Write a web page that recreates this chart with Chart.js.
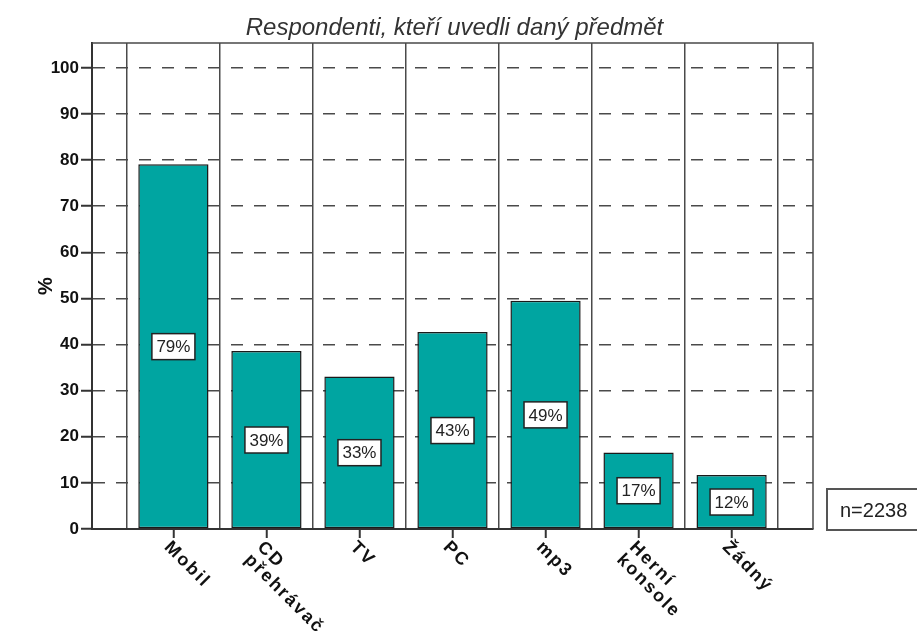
<!DOCTYPE html>
<html>
<head>
<meta charset="utf-8">
<script src="https://cdn.jsdelivr.net/npm/chart.js@4/dist/chart.umd.min.js"></script>
<style>
body { margin: 0; background: #fff; }
</style>
</head>
<body>
<canvas id="graf" width="917" height="635"></canvas>
<script>
var kategorie = [['Mobil'], ['CD', 'přehrávač'], ['TV'], ['PC'], ['mp3'], ['Herní', 'konsole'], ['Žádný']];
var procenta = [79.1, 38.6, 33.1, 42.7, 49.5, 16.6, 11.7];
var popisky = ['79%', '39%', '33%', '43%', '49%', '17%', '12%'];
var osaY = [0, 10, 20, 30, 40, 50, 60, 70, 80, 90, 100];
var titulek = 'Respondenti, kteří uvedli daný předmět';
var pocet = 'n=2238';

var pismo = "'Liberation Sans', Arial, sans-serif";
var barva = '#00a5a1';
var cara = '#4a4a4a';

var body = [];
for (var i = 0; i < procenta.length; i++) {
  body.push({x: i + 1, y: procenta[i]});
}

// hranice mezi sloupci (svisle cary) a stredy (carky pod osou)
var xTicks = [];
for (var i = 0; i <= kategorie.length; i++) {
  xTicks.push({value: i + 0.5});
  if (i < kategorie.length) xTicks.push({value: i + 1});
}

function hranice(ctx) {
  return ctx.tick && ctx.tick.value % 1 !== 0;
}

var doplnky = {
  id: 'doplnky',
  afterDraw: function(chart) {
    var ctx = chart.ctx;
    var area = chart.chartArea;
    var x = chart.scales.x;
    var y = chart.scales.y;
    ctx.save();

    // nadpis nad plochou grafu
    ctx.font = 'italic 24px ' + pismo;
    ctx.fillStyle = '#333';
    ctx.textAlign = 'center';
    ctx.textBaseline = 'middle';
    ctx.fillText(titulek, (area.left + area.right) / 2 + 2, 28);

    // ramecek nahore a vpravo
    ctx.strokeStyle = cara;
    ctx.lineWidth = 1.5;
    ctx.beginPath();
    ctx.moveTo(area.left, area.top);
    ctx.lineTo(area.right, area.top);
    ctx.lineTo(area.right, area.bottom);
    ctx.stroke();

    // popisky hodnot uprostred sloupcu
    var meta = chart.getDatasetMeta(0);
    ctx.font = '17px ' + pismo;
    ctx.textAlign = 'center';
    ctx.textBaseline = 'middle';
    meta.data.forEach(function(bar, i) {
      var stred = y.getPixelForValue(procenta[i] / 2);
      var w = ctx.measureText(popisky[i]).width + 9;
      ctx.fillStyle = '#fff';
      ctx.fillRect(bar.x - w / 2, stred - 13, w, 26);
      ctx.strokeStyle = '#222';
      ctx.lineWidth = 1.5;
      ctx.strokeRect(bar.x - w / 2, stred - 13, w, 26);
      ctx.fillStyle = '#222';
      ctx.fillText(popisky[i], bar.x, stred + 1);
    });

    // kategorie, otocene o 45 stupnu
    ctx.font = 'bold 18px ' + pismo;
    ctx.letterSpacing = '2px';
    ctx.textAlign = 'left';
    ctx.textBaseline = 'top';
    ctx.fillStyle = '#111';
    for (var i = 0; i < kategorie.length; i++) {
      ctx.save();
      ctx.translate(x.getPixelForValue(i + 1), area.bottom + 9);
      ctx.rotate(Math.PI / 4);
      for (var k = 0; k < kategorie[i].length; k++) {
        ctx.fillText(kategorie[i][k], 0, k * 18);
      }
      ctx.restore();
    }
    ctx.letterSpacing = '0px';

    // n=2238
    var bx = area.right + 14;
    var by = area.bottom - 40;
    ctx.fillStyle = '#fff';
    ctx.fillRect(bx, by, 120, 41);
    ctx.strokeStyle = '#555';
    ctx.lineWidth = 2;
    ctx.strokeRect(bx, by, 120, 41);
    ctx.font = '20px ' + pismo;
    ctx.fillStyle = '#222';
    ctx.textAlign = 'left';
    ctx.textBaseline = 'middle';
    ctx.fillText(pocet, bx + 13, by + 22);

    ctx.restore();
  }
};

var graf = new Chart(document.getElementById('graf'), {
  type: 'bar',
  data: {
    datasets: [{
      data: body,
      backgroundColor: barva,
      borderColor: '#1a1a1a',
      borderWidth: 1.5,
      borderSkipped: false,
      // ticky jsou po 0.5, proto sirka > 1
      barPercentage: 1.51,
      categoryPercentage: 1
    }]
  },
  options: {
    responsive: false,
    animation: false,
    layout: { padding: { top: 43, right: 104, bottom: 0, left: 0 } },
    plugins: {
      legend: { display: false },
      tooltip: { enabled: false },
      title: { display: false }
    },
    scales: {
      x: {
        type: 'linear',
        min: 0.125,
        max: 7.875,
        offset: false,
        afterBuildTicks: function(s) { s.ticks = xTicks.slice(); },
        afterFit: function(s) { s.height = 106; },
        ticks: { display: false },
        grid: {
          offset: false,
          lineWidth: 1.5,
          color: function(c) { return hranice(c) ? cara : 'rgba(0,0,0,0)'; },
          tickColor: function(c) { return hranice(c) ? 'rgba(0,0,0,0)' : '#333'; },
          tickLength: 9,
          tickWidth: 2
        },
        border: { color: '#333', width: 2 }
      },
      y: {
        min: 0,
        max: 105.4,
        afterBuildTicks: function(s) {
          s.ticks = osaY.map(function(v) { return {value: v}; });
        },
        afterFit: function(s) { s.width = 92; },
        ticks: {
          color: '#111',
          padding: 2,
          font: { family: pismo, size: 17, weight: 'bold' }
        },
        grid: {
          lineWidth: 1.5,
          color: function(c) { return c.tick && c.tick.value === 0 ? 'rgba(0,0,0,0)' : cara; },
          tickColor: '#333',
          tickLength: 11,
          tickWidth: 2
        },
        border: { color: '#333', width: 2, dash: [12, 11] },
        title: {
          display: true,
          text: '%',
          color: '#111',
          font: { family: pismo, size: 20, weight: 'bold' },
          padding: { top: 34, bottom: 0 }
        }
      }
    }
  },
  plugins: [doplnky]
});
</script>
</body>
</html>
